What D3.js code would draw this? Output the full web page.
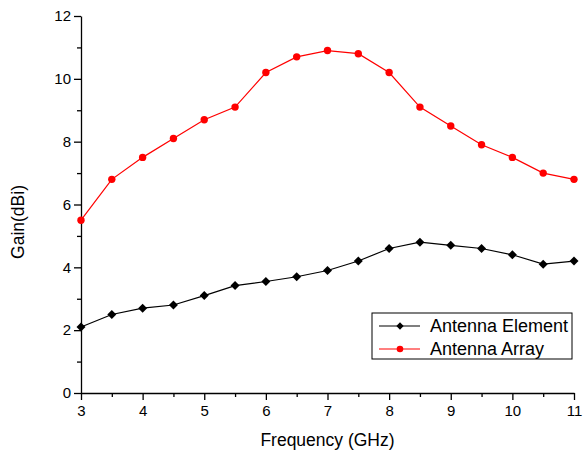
<!DOCTYPE html>
<html>
<head>
<meta charset="utf-8">
<script src="https://cdn.jsdelivr.net/npm/d3@7"></script>
<style>
  body { margin: 0; background: #fff; }
  svg { display: block; font-family: "Liberation Sans", Arial, sans-serif; }
</style>
</head>
<body>
<svg id="chart" width="583" height="450"></svg>
<script>
const freqs = [3, 3.5, 4, 4.5, 5, 5.5, 6, 6.5, 7, 7.5, 8, 8.5, 9, 9.5, 10, 10.5, 11];
const elementGain = [2.1, 2.5, 2.7, 2.8, 3.1, 3.42, 3.55, 3.7, 3.9, 4.2, 4.6, 4.8, 4.7, 4.6, 4.4, 4.1, 4.2];
const arrayGain = [5.5, 6.8, 7.5, 8.1, 8.7, 9.1, 10.2, 10.7, 10.9, 10.8, 10.2, 9.1, 8.5, 7.9, 7.5, 7.0, 6.8];
const xTicks = [3, 4, 5, 6, 7, 8, 9, 10, 11];
const yTicks = [0, 2, 4, 6, 8, 10, 12];

const plotLeft = 81, plotRight = 574, plotTop = 16, plotBottom = 393;
const svg = d3.select("#chart");

const x = d3.scaleLinear().domain([3, 11]).range([plotLeft, plotRight]);
const y = d3.scaleLinear().domain([0, 12]).range([plotBottom, plotTop]);

// minor ticks first
svg.append("g")
  .attr("transform", `translate(0,${plotBottom})`)
  .call(d3.axisBottom(x).tickValues(d3.range(3.5, 11, 1)).tickSize(4).tickFormat(""))
  .call(g => g.select(".domain").remove());
svg.append("g")
  .attr("transform", `translate(${plotLeft},0)`)
  .call(d3.axisLeft(y).tickValues(d3.range(1, 12, 2)).tickSize(4).tickFormat(""))
  .call(g => g.select(".domain").remove());

//axes
const xAxis = svg.append("g")
  .attr("transform", `translate(0,${plotBottom})`)
  .call(d3.axisBottom(x).tickValues(xTicks).tickSize(7).tickSizeOuter(0).tickPadding(5));
const yAxis = svg.append("g")
  .attr("transform", `translate(${plotLeft},0)`)
  .call(d3.axisLeft(y).tickValues(yTicks).tickSize(7).tickSizeOuter(0).tickPadding(3));

svg.selectAll(".tick line, .domain").attr("stroke", "#000").attr("stroke-width", 1.3);
[xAxis, yAxis].forEach(a => a.selectAll("text")
  .attr("font-size", "15px")
  .attr("font-family", "Liberation Sans, Arial, sans-serif")
  .attr("fill", "#000"));

//labels
svg.append("text")
  .attr("x", (plotLeft + plotRight) / 2)
  .attr("y", 446)
  .attr("text-anchor", "middle")
  .attr("font-size", "17.5px")
  .text("Frequency (GHz)");

svg.append("text")
  .attr("transform", "rotate(-90)")
  .attr("x", -222)
  .attr("y", 24)
  .attr("text-anchor", "middle")
  .attr("font-size", "17.5px")
  .text("Gain(dBi)");

const line = d3.line().x((d, i) => x(freqs[i])).y(d => y(d));

// element series
svg.append("path")
  .datum(elementGain)
  .attr("fill", "none")
  .attr("stroke", "#000")
  .attr("stroke-width", 1.2)
  .attr("d", line);
svg.selectAll(".elem")
  .data(elementGain)
  .join("path")
  .attr("class", "elem")
  .attr("d", d3.symbol(d3.symbolDiamond2, 52))
  .attr("transform", (d, i) => `translate(${x(freqs[i])},${y(d)})`)
  .attr("fill", "#000");

// array series
svg.append("path")
  .datum(arrayGain)
  .attr("fill", "none")
  .attr("stroke", "#ff0000")
  .attr("stroke-width", 1.2)
  .attr("d", line);
svg.selectAll(".arr")
  .data(arrayGain)
  .join("circle")
  .attr("class", "arr")
  .attr("cx", (d, i) => x(freqs[i]))
  .attr("cy", d => y(d))
  .attr("r", 3.7)
  .attr("fill", "#ff0000");

//legend
const legend = svg.append("g");
legend.append("rect")
  .attr("x", 372).attr("y", 313)
  .attr("width", 200).attr("height", 46)
  .attr("fill", "#fff")
  .attr("stroke", "#000")
  .attr("stroke-width", 1);

const items = [
  { name: "Antenna Element", color: "#000", ly: 326, marker: "diamond" },
  { name: "Antenna Array", color: "#ff0000", ly: 349, marker: "circle" }
];
items.forEach(it => {
  legend.append("line")
    .attr("x1", 379).attr("x2", 420)
    .attr("y1", it.ly).attr("y2", it.ly)
    .attr("stroke", it.color)
    .attr("stroke-width", 1.2);
  if (it.marker === "diamond") {
    legend.append("path")
      .attr("d", d3.symbol(d3.symbolDiamond2, 34))
      .attr("transform", `translate(400,${it.ly})`)
      .attr("fill", it.color);
  } else {
    legend.append("circle")
      .attr("cx", 400).attr("cy", it.ly).attr("r", 3.3)
      .attr("fill", it.color);
  }
  legend.append("text")
    .attr("x", 430)
    .attr("y", it.ly + 6)
    .attr("font-size", "18px")
    .text(it.name);
});
</script>
</body>
</html>
